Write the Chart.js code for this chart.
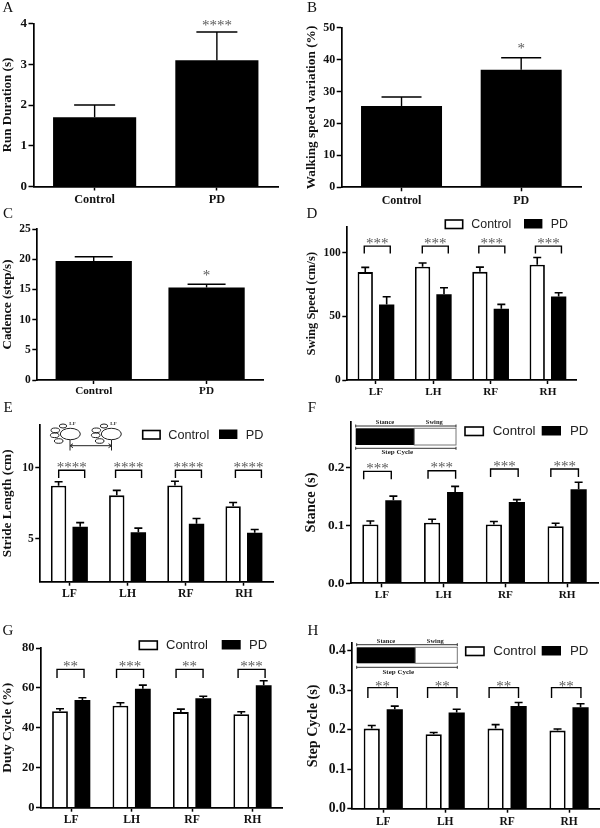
<!DOCTYPE html>
<html>
<head>
<meta charset="utf-8">
<title>Gait panels</title>
<script src="https://cdn.jsdelivr.net/npm/chart.js@4/dist/chart.umd.min.js"></script>
<style>
  html, body { margin: 0; padding: 0; background: #fff; }
  #page { position: relative; width: 600px; height: 828px; overflow: hidden; }
  canvas { position: absolute; }
</style>
</head>
<body>
<div id="page"></div>
<script>
// =============================
// DATA
// =============================
const groupLabels = ["Control", "PD"];
const limbLabels = ["LF", "LH", "RF", "RH"];

// A - run duration
const runValues = [1.7, 3.1];
const runTops = [2.0, 3.79];
const runTicks = ["0", "1", "2", "3", "4"];

// B - walking speed variation
const walkValues = [25.5, 36.8];
const walkTops = [28.3, 40.6];
const walkTicks = ["0", "10", "20", "30", "40", "50"];

// C - cadence
const cadenceValues = [19.7, 15.3];
const cadenceTops = [20.4, 15.85];
const cadenceTicks = ["0", "5", "10", "15", "20", "25"];

// D - swing speed
const swingControl = [84.8, 89, 85, 90.6];
const swingControlTops = [88.5, 91.9, 88.7, 96.3];
const swingPD = [59.4, 67.3, 56, 65.7];
const swingPDTops = [65.4, 72.5, 59.4, 68.6];
const swingTicks = ["0", "50", "100"];
const swingBrackets = [105.2, 105.2, 105.2, 105.2];

// E - stride length
const strideControl = [8.74, 8.06, 8.76, 7.3];
const strideControlTops = [9.02, 8.41, 9.05, 7.56];
const stridePD = [5.85, 5.47, 6.06, 5.43];
const stridePDTops = [6.15, 5.76, 6.44, 5.66];
const strideTicks = ["5", "10"];
const strideBrackets = [9.82, 9.82, 9.82, 9.82];

// F - stance
const stanceControl = [0.102, 0.105, 0.102, 0.099];
const stanceControlTops = [0.108, 0.111, 0.107, 0.104];
const stancePD = [0.144, 0.158, 0.141, 0.163];
const stancePDTops = [0.151, 0.168, 0.145, 0.175];
const stanceTicks = ["0.0", "0.1", "0.2"];
const stanceBrackets = [0.194, 0.195, 0.198, 0.198];

// G - duty cycle
const dutyControl = [48.3, 51.1, 47.9, 46.8];
const dutyControlTops = [49.6, 52.6, 49.4, 48.1];
const dutyPD = [54, 59.6, 54.8, 61.3];
const dutyPDTops = [55.1, 61.4, 55.8, 63.6];
const dutyTicks = ["0", "20", "40", "60", "80"];
const dutyBrackets = [69.3, 69.3, 69.3, 69.3];

// H - step cycle
const stepControl = [0.203, 0.189, 0.203, 0.198];
const stepControlTops = [0.211, 0.193, 0.213, 0.202];
const stepPD = [0.252, 0.244, 0.26, 0.257];
const stepPDTops = [0.26, 0.252, 0.269, 0.266];
const stepTicks = ["0.0", "0.1", "0.2", "0.3", "0.4"];
const stepBrackets = [0.307, 0.307, 0.307, 0.307];

// =============================
// DRAWING HELPERS
// =============================
const SERIF = "'Liberation Serif', serif";
const SANS = "'Liberation Sans', sans-serif";
const STAR_GREY = "#5a5a5a";

function drawStars(ctx, text, x, y) {
  ctx.save();
  ctx.font = "15px " + SERIF;
  ctx.fillStyle = STAR_GREY;
  ctx.textAlign = "center";
  ctx.textBaseline = "alphabetic";
  ctx.fillText(text, x, y + 8);
  ctx.restore();
}

function drawErrors(chart, tops, capW, lineW) {
  const ctx = chart.ctx;
  const y = chart.scales.y;
  ctx.save();
  ctx.strokeStyle = "#000";
  ctx.lineWidth = lineW;
  tops.forEach((set, di) => {
    chart.getDatasetMeta(di).data.forEach((bar, i) => {
      const top = y.getPixelForValue(set[i]);
      ctx.beginPath();
      ctx.moveTo(bar.x, bar.y);
      ctx.lineTo(bar.x, top);
      ctx.moveTo(bar.x - capW / 2, top);
      ctx.lineTo(bar.x + capW / 2, top);
      ctx.stroke();
    });
  });
  ctx.restore();
}

function drawBrackets(chart, p) {
  const ctx = chart.ctx;
  const b = p.brackets;
  ctx.save();
  ctx.strokeStyle = "#000";
  ctx.lineWidth = 1.4;
  b.values.forEach((val, i) => {
    const cx = chart.scales.x.getPixelForValue(i) + b.shift[i];
    const top = chart.scales.y.getPixelForValue(val);
    ctx.beginPath();
    ctx.moveTo(cx - b.half, top + b.drop);
    ctx.lineTo(cx - b.half, top);
    ctx.lineTo(cx + b.half, top);
    ctx.lineTo(cx + b.half, top + b.drop);
    ctx.stroke();
    drawStars(ctx, b.stars[i], cx, top - b.lift);
  });
  ctx.restore();
}

function drawLegend(ctx, lg) {
  ctx.save();
  ctx.font = lg.size + "px " + SANS;
  ctx.fillStyle = "#222";
  ctx.textBaseline = "middle";
  ctx.textAlign = "left";
  ctx.fillText("Control", lg.text1, lg.cy + 0.5);
  ctx.fillText("PD", lg.text2, lg.cy + 0.5);
  ctx.lineWidth = 1.6;
  ctx.strokeStyle = "#000";
  ctx.strokeRect(lg.box1, lg.cy - 4, lg.w, 8.5);
  ctx.fillStyle = "#000";
  ctx.fillRect(lg.box2, lg.cy - 5, lg.w + 1, 9.5);
  ctx.restore();
}

function drawGait(ctx, g) {
  ctx.save();
  ctx.strokeStyle = "#333";
  ctx.lineWidth = 1;
  [g.lineTop, g.lineBottom].forEach(y => {
    ctx.beginPath();
    ctx.moveTo(g.x0, y);
    ctx.lineTo(g.x1, y);
    ctx.moveTo(g.x0, y - 1.5);
    ctx.lineTo(g.x0, y + 1.5);
    ctx.moveTo(g.x1, y - 1.5);
    ctx.lineTo(g.x1, y + 1.5);
    ctx.stroke();
  });
  ctx.fillStyle = "#000";
  ctx.fillRect(g.x0, g.boxTop, g.xSplit - g.x0, g.boxBottom - g.boxTop);
  ctx.strokeStyle = "#777";
  ctx.strokeRect(g.xSplit, g.boxTop, g.x1 - g.xSplit, g.boxBottom - g.boxTop);
  ctx.font = "bold 6.5px " + SERIF;
  ctx.fillStyle = "#222";
  ctx.textAlign = "center";
  ctx.textBaseline = "middle";
  ctx.fillText("Stance", g.stanceX, g.labelTop);
  ctx.fillText("Swing", g.swingX, g.labelTop);
  ctx.font = "bold 7px " + SERIF;
  ctx.fillText("Step Cycle", g.cycleX, g.labelBottom);
  ctx.restore();
}

function drawPaw(ctx, dx) {
  const ovals = [[70.3, 434, 10, 5.7], [63, 426, 3.7, 2], [55.3, 430.3, 4.3, 2.3], [54.7, 435.3, 4.3, 2.3], [58.7, 441, 4.3, 2.3]];
  ctx.strokeStyle = "#222";
  ctx.lineWidth = 1;
  ovals.forEach(o => {
    ctx.beginPath();
    ctx.ellipse(o[0] + dx, o[1] - 400, o[2], o[3], 0, 0, Math.PI * 2);
    ctx.stroke();
  });
  ctx.font = "bold 5px " + SERIF;
  ctx.fillStyle = "#333";
  ctx.textAlign = "center";
  ctx.textBaseline = "middle";
  ctx.fillText("LF", 72.5 + dx, 24);
}

function drawStride(ctx) {
  ctx.save();
  drawPaw(ctx, 0);
  drawPaw(ctx, 41);
  ctx.beginPath();
  ctx.moveTo(70, 40); ctx.lineTo(70, 50.5);
  ctx.moveTo(111.5, 40); ctx.lineTo(111.5, 50.5);
  ctx.moveTo(70, 45.7); ctx.lineTo(111.5, 45.7);
  ctx.moveTo(73, 43.7); ctx.lineTo(70, 45.7); ctx.lineTo(73, 47.7);
  ctx.moveTo(108.5, 43.7); ctx.lineTo(111.5, 45.7); ctx.lineTo(108.5, 47.7);
  ctx.stroke();
  ctx.restore();
}

// =============================
// PANELS
// =============================
const single = (values, tops) => ({ groups: groupLabels, sets: [values], tops: [tops] });
const paired = (c, cTop, pd, pdTop) => ({ groups: limbLabels, sets: [c, pd], tops: [cTop, pdTop] });

const panels = [
  { letter: "A", letterAt: [8, 8], box: [0, 0, 300, 208], plot: [33.5, 23.5, 278, 186.5],
    min: 0, max: 4, ticks: runTicks, title: "Run Duration (s)", titleSize: 13, titleAt: 8, tickSize: 13, catSize: 12.3,
    catPad: 2, cat: 0.68, bar: 1, capW: 41, errW: 1.4, ...single(runValues, runTops),
    star: { text: "****", value: 4.04 } },
  { letter: "B", letterAt: [312, 8], box: [300, 0, 600, 208], plot: [341.7, 27.7, 581, 187.3],
    min: 0, max: 50, ticks: walkTicks, title: "Walking speed variation (%)", titleSize: 13.3, titleAt: 312, tickSize: 12, catSize: 12,
    catPad: 2, cat: 0.677, bar: 1, capW: 40, errW: 1.4, ...single(walkValues, walkTops),
    star: { text: "*", value: 44.6 } },
  { letter: "C", letterAt: [8, 214], box: [0, 200, 300, 400], plot: [37.3, 229, 263, 380],
    min: 0, max: 25, ticks: cadenceTicks, title: "Cadence (step/s)", titleSize: 12.9, titleAt: 8, tickSize: 11.5, catSize: 11.2,
    catPad: 0, cat: 0.676, bar: 1, capW: 38, errW: 1.4, ...single(cadenceValues, cadenceTops),
    star: { text: "*", value: 17.8 } },
  { letter: "D", letterAt: [312, 214], box: [300, 200, 600, 400], plot: [347.3, 227.3, 576.6, 380],
    min: 0, max: 120, ticks: swingTicks, title: "Swing Speed (cm/s)", titleSize: 12.5, titleAt: 312, tickSize: 11.5, catSize: 11.2,
    catPad: 1, cat: 0.747, bar: 0.715, capW: 8, errW: 1.6, ...paired(swingControl, swingControlTops, swingPD, swingPDTops),
    brackets: { values: swingBrackets, shift: [1.3, 2, 1.2, 0.5], half: 13, drop: 7.3, lift: 6, stars: ["***", "***", "***", "***"] },
    legend: { box1: 445.3, box2: 524, w: 17.4, cy: 224, text1: 471.3, text2: 550.7, size: 12.4 } },
  { letter: "E", letterAt: [8, 408], box: [0, 400, 300, 610], plot: [40.3, 425, 273, 581.7],
    min: 2, max: 13, ticks: strideTicks, title: "Stride Length (cm)", titleSize: 13.3, titleAt: 8, tickSize: 11.5, catSize: 11.7,
    catPad: 1, cat: 0.742, bar: 0.713, capW: 8, errW: 1.6, ...paired(strideControl, strideControlTops, stridePD, stridePDTops),
    brackets: { values: strideBrackets, shift: [2.3, 1, 2.7, 4.5], half: 13, drop: 7.7, lift: 6.7, stars: ["****", "****", "****", "****"] },
    legend: { box1: 142.7, box2: 219, w: 17.4, cy: 434.5, text1: 168.3, text2: 245.7, size: 12.7 }, extra: drawStride },
  { letter: "F", letterAt: [312, 408], box: [300, 400, 600, 610], plot: [351, 421.7, 598, 583.3],
    min: 0, max: 0.28, ticks: stanceTicks, title: "Stance (s)", titleSize: 14.5, titleAt: 311, tickSize: 13.3, catSize: 11.2,
    catPad: 1, cat: 0.745, bar: 0.704, capW: 8, errW: 1.6, ...paired(stanceControl, stanceControlTops, stancePD, stancePDTops),
    brackets: { values: stanceBrackets, shift: [-4.4, -1.8, -1, -2.5], half: 13.8, drop: 8, lift: 6.3, stars: ["***", "***", "***", "***"] },
    legend: { box1: 465, box2: 541.7, w: 18.3, cy: 431, text1: 492.7, text2: 570, size: 13.3 },
    gait: { x0: 55.7, x1: 156, xSplit: 114.3, lineTop: 26, lineBottom: 48.3, boxTop: 28.3, boxBottom: 45, labelTop: 22, labelBottom: 52.3, stanceX: 85, swingX: 134.3, cycleX: 97.3 } },
  { letter: "G", letterAt: [8, 631], box: [0, 610, 300, 828], plot: [41, 648, 282.7, 807.7],
    min: 0, max: 80, ticks: dutyTicks, title: "Duty Cycle (%)", titleSize: 13.5, titleAt: 8, tickSize: 12.5, catSize: 11.7,
    catPad: 1.5, cat: 0.742, bar: 0.705, capW: 8, errW: 1.6, ...paired(dutyControl, dutyControlTops, dutyPD, dutyPDTops),
    brackets: { values: dutyBrackets, shift: [-0.7, -1.6, -2.5, -0.9], half: 13.5, drop: 8.7, lift: 6, stars: ["**", "***", "**", "***"] },
    legend: { box1: 139.3, box2: 221.7, w: 18, cy: 645, text1: 166, text2: 249, size: 13 } },
  { letter: "H", letterAt: [313, 631], box: [300, 610, 600, 828], plot: [352.3, 643, 600, 808.7],
    min: 0, max: 0.42, ticks: stepTicks, title: "Step Cycle (s)", titleSize: 14.2, titleAt: 313, tickSize: 13.6, catSize: 11.5,
    catPad: 2, cat: 0.743, bar: 0.704, capW: 8, errW: 1.6, ...paired(stepControl, stepControlTops, stepPD, stepPDTops),
    brackets: { values: stepBrackets, shift: [-0.7, -2.9, -3.3, -2.8], half: 14.7, drop: 10.3, lift: 5, stars: ["**", "**", "**", "**"] },
    legend: { box1: 465.7, box2: 541.7, w: 18.3, cy: 651, text1: 493.3, text2: 570, size: 13.3 },
    gait: { x0: 56.7, x1: 157.3, xSplit: 115.3, lineTop: 34.7, lineBottom: 57.3, boxTop: 37.3, boxBottom: 53.3, labelTop: 31, labelBottom: 61.7, stanceX: 86, swingX: 135.3, cycleX: 98.3 } }
];

function makePanel(p) {
  const [left, top, right, bottom] = p.box;
  const [axisX, axisTop, axisRight, axisBottom] = p.plot;
  const canvas = document.createElement("canvas");
  canvas.width = right - left;
  canvas.height = bottom - top;
  canvas.style.left = left + "px";
  canvas.style.top = top + "px";
  document.getElementById("page").appendChild(canvas);

  const datasets = p.sets.map((values, i) => {
    const white = p.sets.length === 2 && i === 0;
    return {
      label: groupLabels[i],
      data: values,
      backgroundColor: white ? "#fff" : "#000",
      borderColor: "#000",
      borderWidth: white ? 1.8 : 0,
      borderSkipped: "start",
      categoryPercentage: p.cat,
      barPercentage: p.bar
    };
  });

  // gait insets and the paw sketch are relative to the panel's own canvas
  const decor = {
    id: "decor",
    afterDatasetsDraw(chart) {
      const ctx = chart.ctx;
      drawErrors(chart, p.tops, p.capW, p.errW);
      if (p.brackets) drawBrackets(chart, p);
      if (p.star) {
        const bar = chart.getDatasetMeta(0).data[1];
        drawStars(ctx, p.star.text, bar.x, chart.scales.y.getPixelForValue(p.star.value));
      }
      ctx.save();
      ctx.translate(-left, -top);
      ctx.font = "15px " + SERIF;
      ctx.fillStyle = "#111";
      ctx.textAlign = "center";
      ctx.textBaseline = "middle";
      ctx.fillText(p.letter, p.letterAt[0], p.letterAt[1]);
      if (p.legend) drawLegend(ctx, p.legend);
      ctx.restore();
      if (p.gait) drawGait(ctx, p.gait);
      if (p.extra) p.extra(ctx);
    }
  };

  return new Chart(canvas.getContext("2d"), {
    type: "bar",
    data: { labels: p.groups, datasets },
    plugins: [decor],
    options: {
      responsive: false,
      animation: false,
      layout: { padding: { left: 0, top: axisTop - top, right: right - axisRight, bottom: 0 } },
      plugins: { legend: { display: false }, tooltip: { enabled: false } },
      scales: {
        x: {
          afterFit: s => { s.height = bottom - axisBottom; },
          grid: { offset: false, drawOnChartArea: false, tickLength: 4, tickColor: "#000", tickWidth: 1.5 },
          border: { color: "#000", width: 1.7, z: 2 },
          ticks: { color: "#111", padding: p.catPad, font: { family: SERIF, size: p.catSize, weight: "bold" }, maxRotation: 0 }
        },
        y: {
          min: p.min,
          max: p.max,
          afterFit: s => { s.width = axisX - left; },
          afterBuildTicks: s => { s.ticks = p.ticks.map(t => ({ value: Number(t) })); },
          grid: { drawOnChartArea: false, tickLength: 5, tickColor: "#000", tickWidth: 1.5 },
          border: { color: "#000", width: 1.7 },
          ticks: {
            color: "#111",
            padding: 1.5,
            font: { family: SERIF, size: p.tickSize, weight: "bold" },
            callback: (v, i) => p.ticks[i]
          },
          title: {
            display: true,
            text: p.title,
            color: "#111",
            padding: { top: p.titleAt - left - p.titleSize * 0.6, bottom: 0 },
            font: { family: SERIF, size: p.titleSize, weight: "bold" }
          }
        }
      }
    }
  });
}

panels.forEach(makePanel);
</script>
</body>
</html>
